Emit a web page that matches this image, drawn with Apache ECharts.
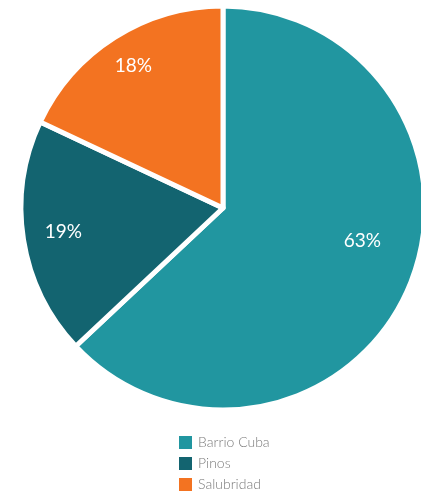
<!DOCTYPE html>
<html>
<head>
<meta charset="utf-8">
<script src="https://cdn.jsdelivr.net/npm/echarts@6/dist/echarts.min.js"></script>
<style>
  html, body { margin: 0; padding: 0; background: #ffffff; }
  #chart { width: 421px; height: 494px; }
</style>
</head>
<body>
<div id="chart"></div>
<script>
// Share of cases by neighbourhood
const categories = ['Barrio Cuba', 'Pinos', 'Salubridad'];
const shares = [63, 19, 18];
const colors = ['#2196A0', '#136470', '#F37321'];

// Nudges applied to the inside labels (pixels)
const labelShift = [[44, -8], [-57, 8], [-34, -54]];

const chart = echarts.init(document.getElementById('chart'), null, { renderer: 'canvas' });

chart.setOption({
  animation: false,
  color: colors,
  legend: {
    orient: 'vertical',
    left: 177,
    top: 434,
    height: 90,
    padding: 0,
    itemWidth: 15,
    itemHeight: 15,
    itemGap: 4,
    icon: 'rect',
    data: categories,
    textStyle: {
      fontFamily: 'Lato',
      fontWeight: 300,
      fontSize: 14,
      lineHeight: 15,
      color: '#7a7a7a'
    }
  },
  series: [{
    type: 'pie',
    center: [223, 208],
    radius: 202,
    startAngle: 90,
    clockwise: true,
    itemStyle: { borderColor: '#ffffff', borderWidth: 5 },
    label: {
      show: true,
      position: 'inside',
      formatter: '{c}%',
      color: '#ffffff',
      fontFamily: 'Lato',
      fontSize: 19,
      fontWeight: 400
    },
    labelLine: { show: false },
    emphasis: { disabled: true },
    labelLayout: function (params) {
      const s = labelShift[params.dataIndex];
      return { dx: s[0], dy: s[1] };
    },
    data: categories.map((name, i) => ({ name: name, value: shares[i] }))
  }]
});
</script>
</body>
</html>
